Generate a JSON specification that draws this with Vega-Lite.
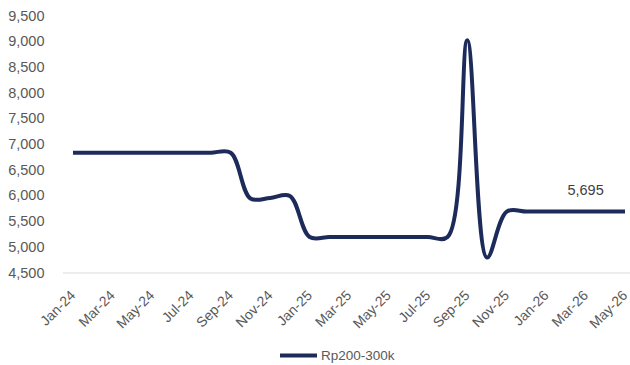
{
  "$schema": "https://vega.github.io/schema/vega-lite/v6.json",
  "width": 567,
  "height": 257,
  "autosize": {"type": "none"},
  "padding": {"left": 63, "top": 16, "right": 0, "bottom": 92},
  "background": "white",
  "config": {
    "view": {"stroke": null},
    "font": "Liberation Sans"
  },
  "datasets": {
    "series": [
      {"m": "Jan-24", "v": 6840, "s": "Rp200-300k"},
      {"m": "Feb-24", "v": 6840, "s": "Rp200-300k"},
      {"m": "Mar-24", "v": 6840, "s": "Rp200-300k"},
      {"m": "Apr-24", "v": 6840, "s": "Rp200-300k"},
      {"m": "May-24", "v": 6840, "s": "Rp200-300k"},
      {"m": "Jun-24", "v": 6840, "s": "Rp200-300k"},
      {"m": "Jul-24", "v": 6840, "s": "Rp200-300k"},
      {"m": "Aug-24", "v": 6840, "s": "Rp200-300k"},
      {"m": "Sep-24", "v": 6840, "s": "Rp200-300k"},
      {"m": "Oct-24", "v": 5950, "s": "Rp200-300k"},
      {"m": "Nov-24", "v": 5960, "s": "Rp200-300k"},
      {"m": "Dec-24", "v": 6000, "s": "Rp200-300k"},
      {"m": "Jan-25", "v": 5200, "s": "Rp200-300k"},
      {"m": "Feb-25", "v": 5200, "s": "Rp200-300k"},
      {"m": "Mar-25", "v": 5200, "s": "Rp200-300k"},
      {"m": "Apr-25", "v": 5200, "s": "Rp200-300k"},
      {"m": "May-25", "v": 5200, "s": "Rp200-300k"},
      {"m": "Jun-25", "v": 5200, "s": "Rp200-300k"},
      {"m": "Jul-25", "v": 5200, "s": "Rp200-300k"},
      {"m": "Aug-25", "v": 5200, "s": "Rp200-300k"},
      {"m": "Sep-25", "v": 9030, "s": "Rp200-300k"},
      {"m": "Oct-25", "v": 4800, "s": "Rp200-300k"},
      {"m": "Nov-25", "v": 5695, "s": "Rp200-300k"},
      {"m": "Dec-25", "v": 5695, "s": "Rp200-300k"},
      {"m": "Jan-26", "v": 5695, "s": "Rp200-300k"},
      {"m": "Feb-26", "v": 5695, "s": "Rp200-300k"},
      {"m": "Mar-26", "v": 5695, "s": "Rp200-300k"},
      {"m": "Apr-26", "v": 5695, "s": "Rp200-300k"},
      {"m": "May-26", "v": 5695, "s": "Rp200-300k"}
    ],
    "labels": [
      {"m": "Mar-26", "v": 5695, "t": "5,695"}
    ]
  },
  "encoding": {
    "y": {
      "field": "v", "type": "quantitative",
      "scale": {"domain": [4500, 9500], "nice": false, "zero": false},
      "axis": {
        "title": null, "domain": false, "ticks": false, "grid": false, "labelOverlap": false, "labelFlush": false,
        "values": [4500,5000,5500,6000,6500,7000,7500,8000,8500,9000,9500],
        "format": ",d", "labelPadding": 19, "labelFontSize": 14.5, "labelColor": "#595959", "labelFont": "Liberation Sans"
      }
    }
  },
  "layer": [
    {
      "data": {"values": [{"v": 4500}]},
      "mark": {"type": "rule", "color": "#d9d9d9", "strokeWidth": 1},
      "encoding": {}
    },
    {
      "data": {"name": "series"},
      "mark": {"type": "line", "interpolate": "catmull-rom", "strokeWidth": 4, "strokeCap": "butt"},
      "encoding": {
        "x": {
          "field": "m", "type": "ordinal",
          "scale": {"type": "point", "range": [10, 562], "padding": 0,
            "domain": ["Jan-24","Feb-24","Mar-24","Apr-24","May-24","Jun-24","Jul-24","Aug-24","Sep-24","Oct-24","Nov-24","Dec-24","Jan-25","Feb-25","Mar-25","Apr-25","May-25","Jun-25","Jul-25","Aug-25","Sep-25","Oct-25","Nov-25","Dec-25","Jan-26","Feb-26","Mar-26","Apr-26","May-26"]},
          "axis": {
            "title": null, "domain": false, "ticks": false, "grid": false, "labelOverlap": false,
            "values": ["Jan-24","Mar-24","May-24","Jul-24","Sep-24","Nov-24","Jan-25","Mar-25","May-25","Jul-25","Sep-25","Nov-25","Jan-26","Mar-26","May-26"],
            "labelAngle": -45, "labelAlign": "right", "labelBaseline": "middle",
            "labelPadding": 20, "labelFontSize": 14, "labelColor": "#595959", "labelFont": "Liberation Sans"
          }
        },
        "color": {
          "field": "s", "type": "nominal",
          "scale": {"range": ["#1d2b5b"]},
          "legend": {
            "title": null, "orient": "none", "legendX": 215, "legendY": 319,
            "symbolType": "stroke", "symbolSize": 1369, "symbolStrokeWidth": 4,
            "labelFontSize": 13.5, "labelColor": "#595959", "labelFont": "Liberation Sans", "labelOffset": 2
          }
        }
      }
    },
    {
      "data": {"name": "labels"},
      "mark": {"type": "text", "dy": -21, "fontSize": 14.5, "color": "#404040", "font": "Liberation Sans"},
      "encoding": {
        "x": {"field": "m", "type": "ordinal"},
        "text": {"field": "t"}
      }
    }
  ]
}
